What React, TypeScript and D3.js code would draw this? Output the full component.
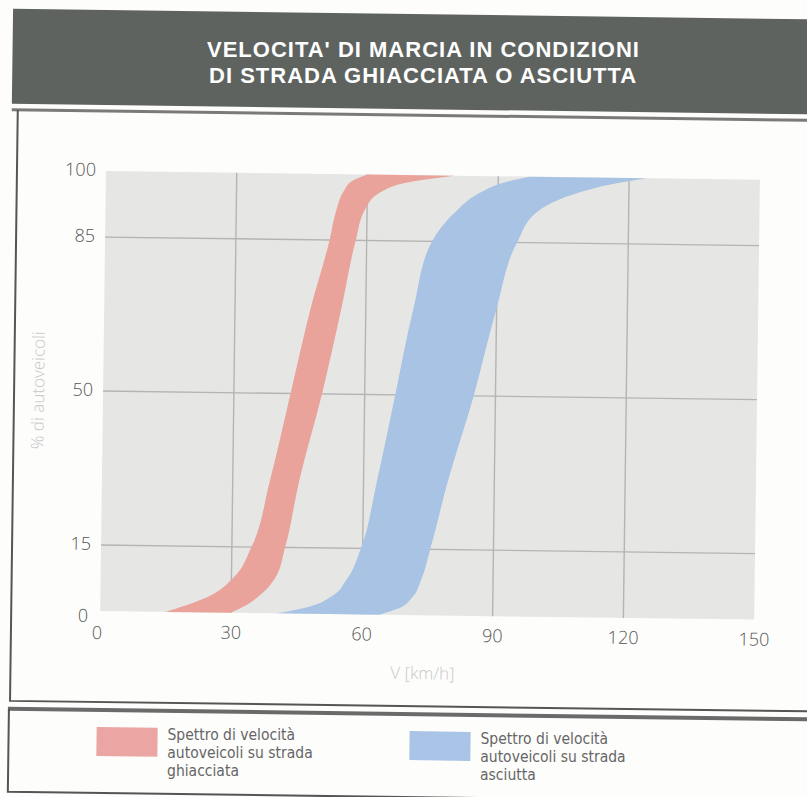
import { useEffect, useRef } from 'react';
import * as d3 from 'd3';

// percent of vehicles (y) and the speed band edges (km/h) read at each level
const percentLevels = [0, 1.5, 4, 8, 15, 30, 50, 70, 85, 92, 96, 98.5, 100];
const icyLow = [15, 19.5, 25.5, 30.5, 34.5, 38.5, 43, 47.5, 51.5, 53, 54.5, 56.5, 60];
const icyHigh = [30, 33, 36.5, 40, 42.2, 45.2, 50.2, 54.5, 57.5, 59.5, 63, 70, 80];
const dryLow = [40.5, 47.5, 53, 56.5, 59.6, 63, 67, 71, 75, 80.5, 85.5, 91, 97];
const dryHigh = [64, 68.5, 71.5, 73.5, 75.5, 79.2, 85, 90, 94.5, 99, 107, 116, 124];

const xTicks = [0, 30, 60, 90, 120, 150];
const yTicks = [0, 15, 50, 85, 100];
const xGrid = [30, 60, 90, 120];
const yGrid = [15, 50, 85];

const titleLines = ["VELOCITA' DI MARCIA IN CONDIZIONI", 'DI STRADA GHIACCIATA O ASCIUTTA'];
const legendIcy = ['Spettro di velocità', 'autoveicoli su strada', 'ghiacciata'];
const legendDry = ['Spettro di velocità', 'autoveicoli su strada', 'asciutta'];

const width = 807;
const height = 797;
const plot = { left: 103, right: 757, top: 175, bottom: 615 };
const tickFont = "'Open Sans', sans-serif";
const titleFont = "'Liberation Sans', Arial, sans-serif";
const narrowFont = "'Liberation Sans Narrow', 'DejaVu Sans Condensed', sans-serif";

// the page was scanned slightly tilted
const tiltDeg = 0.75;
const tiltCenter = { x: 403, y: 400 };
const tilt = (px: number, py: number) => {
    const a = (tiltDeg * Math.PI) / 180;
    const dx = px - tiltCenter.x;
    const dy = py - tiltCenter.y;
    return [
        tiltCenter.x + dx * Math.cos(a) - dy * Math.sin(a),
        tiltCenter.y + dx * Math.sin(a) + dy * Math.cos(a),
    ];
};

const App = () => {
    const svgRef = useRef<SVGSVGElement>(null);

    useEffect(() => {
        d3.select(svgRef.current).selectAll('*').remove();

        const root = d3
            .select(svgRef.current)
            .attr('width', width)
            .attr('height', height);

        root.append('rect')
            .attr('width', width)
            .attr('height', height)
            .attr('fill', '#fdfdfc');

        const svg = root
            .append('g')
            .attr('transform', `rotate(${tiltDeg}, ${tiltCenter.x}, ${tiltCenter.y})`);

        const x = d3.scaleLinear().domain([0, 150]).range([plot.left, plot.right]);
        const y = d3.scaleLinear().domain([0, 100]).range([plot.bottom, plot.top]);

        // header banner
        svg.append('rect')
            .attr('x', 8)
            .attr('y', 14)
            .attr('width', width + 20)
            .attr('height', 95)
            .attr('fill', '#5e635f');

        // chart frame
        svg.append('line')
            .attr('x1', 8)
            .attr('x2', width + 20)
            .attr('y1', 115)
            .attr('y2', 115)
            .attr('stroke', '#7a7a7a')
            .attr('stroke-width', 3);
        svg.append('path')
            .attr('d', `M14,115 V706 H${width + 20}`)
            .attr('fill', 'none')
            .attr('stroke', '#555')
            .attr('stroke-width', 2);

        // legend frame
        svg.append('line')
            .attr('x1', 12)
            .attr('x2', width + 20)
            .attr('y1', 714)
            .attr('y2', 714)
            .attr('stroke', '#6a6a6a')
            .attr('stroke-width', 4);
        svg.append('path')
            .attr('d', `M13,714 V797 H${width + 20}`)
            .attr('fill', 'none')
            .attr('stroke', '#555')
            .attr('stroke-width', 2);

        // plot background
        svg.append('rect')
            .attr('x', x(0))
            .attr('y', y(100))
            .attr('width', x(150) - x(0))
            .attr('height', y(0) - y(100))
            .attr('fill', '#e6e6e5');

        svg.selectAll('line.vgrid')
            .data(xGrid)
            .join('line')
            .attr('class', 'vgrid')
            .attr('x1', d => x(d))
            .attr('x2', d => x(d))
            .attr('y1', y(100))
            .attr('y2', y(0))
            .attr('stroke', '#b4b4b4')
            .attr('stroke-width', 1.4);

        svg.selectAll('line.hgrid')
            .data(yGrid)
            .join('line')
            .attr('class', 'hgrid')
            .attr('x1', x(0))
            .attr('x2', x(150))
            .attr('y1', d => y(d))
            .attr('y2', d => y(d))
            .attr('stroke', '#b4b4b4')
            .attr('stroke-width', 1.4);

        // speed bands
        const band = d3
            .area<{ p: number; lo: number; hi: number }>()
            .y(d => y(d.p))
            .x0(d => x(d.lo))
            .x1(d => x(d.hi))
            .curve(d3.curveMonotoneY);

        const icy = percentLevels.map((p, i) => ({ p, lo: icyLow[i], hi: icyHigh[i] }));
        const dry = percentLevels.map((p, i) => ({ p, lo: dryLow[i], hi: dryHigh[i] }));

        svg.append('path').attr('d', band(icy)).attr('fill', '#e9a39b');
        svg.append('path').attr('d', band(dry)).attr('fill', '#a8c3e3');

        // tick labels (the zeros sit a little off the axis, as in the print)
        svg.selectAll('text.ytick')
            .data(yTicks)
            .join('text')
            .attr('class', 'ytick')
            .attr('x', d => (d === 0 ? plot.left - 12 : plot.left - 10))
            .attr('y', d => (d === 0 ? y(d) + 11 : y(d) + 5))
            .attr('text-anchor', 'end')
            .attr('fill', '#555')
            .style('font-family', tickFont)
            .style('font-weight', 300)
            .style('font-size', '18px')
            .text(d => d);

        svg.selectAll('text.xtick')
            .data(xTicks)
            .join('text')
            .attr('class', 'xtick')
            .attr('x', d => (d === 0 ? x(d) - 3 : x(d)))
            .attr('y', d => (d === 0 ? plot.bottom + 28 : plot.bottom + 26))
            .attr('text-anchor', 'middle')
            .attr('fill', '#555')
            .style('font-family', tickFont)
            .style('font-weight', 300)
            .style('font-size', '18px')
            .text(d => d);

        // axis titles
        svg.append('text')
            .attr('transform', `translate(44, ${(plot.top + plot.bottom) / 2}) rotate(-90)`)
            .attr('text-anchor', 'middle')
            .attr('fill', '#c8c8c8')
            .style('font-family', tickFont)
            .style('font-weight', 300)
            .style('font-size', '17px')
            .text('% di autoveicoli');

        svg.append('text')
            .attr('x', (plot.left + plot.right) / 2 - 4)
            .attr('y', 679)
            .attr('text-anchor', 'middle')
            .attr('fill', '#c8c8c8')
            .style('font-family', tickFont)
            .style('font-weight', 300)
            .style('font-size', '17px')
            .text('V [km/h]');

        // title: long lines are placed on the tilted page but kept level
        root.selectAll('text.title')
            .data(titleLines)
            .join('text')
            .attr('class', 'title')
            .attr('x', (_d, i) => tilt(419, 57 + i * 26)[0])
            .attr('y', (_d, i) => tilt(419, 57 + i * 26)[1])
            .attr('text-anchor', 'middle')
            .attr('fill', '#ffffff')
            .style('font-family', titleFont)
            .style('font-weight', 700)
            .style('font-size', '22px')
            .style('letter-spacing', '1px')
            .text(d => d);

        // legend
        const legendItems = [
            { x: 101, color: '#eba5a2', lines: legendIcy },
            { x: 414, color: '#a9c4e6', lines: legendDry },
        ];
        svg.selectAll('rect.swatch')
            .data(legendItems)
            .join('rect')
            .attr('class', 'swatch')
            .attr('x', d => d.x)
            .attr('y', 731)
            .attr('width', 61)
            .attr('height', 29)
            .attr('fill', d => d.color);

        legendItems.forEach(item => {
            root.selectAll(`text.legend-${item.x}`)
                .data(item.lines)
                .join('text')
                .attr('class', `legend-${item.x}`)
                .attr('x', (_d, i) => tilt(item.x + 71, 743 + i * 18)[0])
                .attr('y', (_d, i) => tilt(item.x + 71, 743 + i * 18)[1])
                .attr('fill', '#666')
                .style('font-family', narrowFont)
                .style('font-size', '15.5px')
                .text(d => d);
        });
    }, []);

    return (
        <div style={{ position: 'absolute', left: 0, top: 0 }}>
            <svg ref={svgRef}></svg>
        </div>
    );
};

export default App;
